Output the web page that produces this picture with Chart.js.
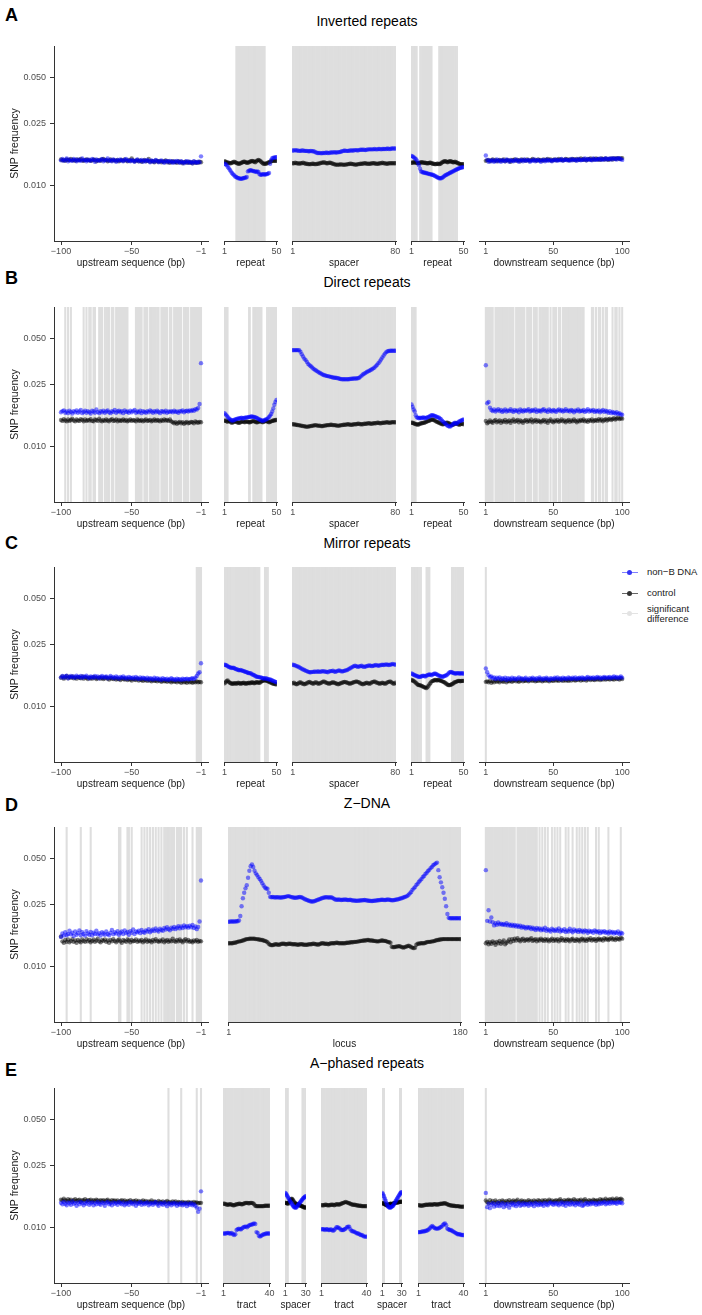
<!DOCTYPE html>
<html lang="en">
<head>
<meta charset="UTF-8">
<title>SNP frequency in and around non-B DNA motifs</title>
<script src="https://cdn.jsdelivr.net/npm/chart.js@4.4.0/dist/chart.umd.min.js"></script>
<style>
  body { margin: 0; width: 702px; height: 1315px; position: relative; background: #fff; overflow: hidden;
         font-family: 'Liberation Sans', Arial, sans-serif; }
  canvas { position: absolute; }
  .letter { position: absolute; left: 5px; font-size: 18px; font-weight: bold; line-height: 1; transform: translateY(-50%); }
  .title { position: absolute; left: 367px; font-size: 14px; line-height: 1; white-space: nowrap; transform: translate(-50%, -50%); }
  .ltext { position: absolute; left: 647px; font-size: 9.5px; line-height: 10px; color: #1a1a1a; transform: translateY(-50%); }
  .kline { position: absolute; left: 622px; width: 16px; height: 1px; }
  .kdot { position: absolute; left: 627px; width: 5px; height: 5px; border-radius: 50%; }
</style>
</head>
<body>
<div class="letter" style="top:14.5px">A</div>
<div class="letter" style="top:278px">B</div>
<div class="letter" style="top:543px">C</div>
<div class="letter" style="top:805px">D</div>
<div class="letter" style="top:1070px">E</div>
<div class="title" style="top:21px">Inverted repeats</div>
<div class="title" style="top:282px">Direct repeats</div>
<div class="title" style="top:543px">Mirror repeats</div>
<div class="title" style="top:803px">Z−DNA</div>
<div class="title" style="top:1063px">A−phased repeats</div>

<div class="kline" style="top:572px;background:rgba(0,0,255,0.5)"></div>
<div class="kdot" style="top:569.5px;background:#3535f5"></div>
<div class="ltext" style="top:572px">non−B DNA</div>
<div class="kline" style="top:593px;background:rgba(0,0,0,0.6)"></div>
<div class="kdot" style="top:590.5px;background:#333"></div>
<div class="ltext" style="top:593px">control</div>
<div class="kline" style="top:613px;background:#e3e3e3"></div>
<div class="kdot" style="top:610.5px;background:#e3e3e3"></div>
<div class="ltext" style="top:614px">significant<br>difference</div>

<script>
// SNP frequency values are given x 1000 (e.g. 14.5 = 0.0145)
const upTicks = [-100, -50, -1];
const downTicks = [1, 50, 100];
const rep50Ticks = [1, 50];
const sp80Ticks = [1, 80];
const locusTicks = [1, 180];
const tractTicks = [1, 40];
const sp30Ticks = [1, 30];
const yTicks = [0.010, 0.025, 0.050];

// ---- A: inverted repeats
const aUpNonB = [14.5,14.8,14.4,14.6,14.9,14.3,14.7,14.5,14.4,14.8,14.6,14.3,14.7,14.5,14.4,14.9,14.5,14.6,14.3,14.7,
  14.5,14.4,14.8,14.6,14.2,14.7,14.5,14.4,14.6,14.8,14.3,14.6,14.5,14.9,14.4,14.6,14.3,14.7,14.5,14.2,
  14.6,14.4,14.7,14.5,14.3,14.6,14.8,14.4,14.5,14.3,14.6,14.4,14.2,14.5,14.7,14.3,14.4,14.6,14.2,14.5,
  14.3,14.6,14.4,14.1,14.5,14.3,14.2,14.6,14.4,14.1,14.3,14.5,14.2,14.0,14.4,14.3,14.1,14.4,14.2,14.0,
  14.3,14.1,14.4,14.2,14.0,14.3,14.1,13.9,14.2,14.3,14.0,14.2,14.1,13.9,14.3,14.1,14.0,14.2,14.1,15.4];
const aUpCtrl = [14.7,14.5,14.6,14.4,14.7,14.6,14.5,14.8,14.5,14.6,14.4,14.7,14.5,14.6,14.8,14.5,14.4,14.6,14.7,14.5,
  14.6,14.4,14.5,14.7,14.6,14.3,14.5,14.6,14.4,14.7,14.8,14.5,14.6,14.3,14.5,14.7,14.4,14.6,14.5,14.4,
  14.6,14.3,14.5,14.6,14.4,14.7,14.5,14.3,14.6,14.4,14.9,14.5,14.3,14.4,14.6,14.3,14.5,14.2,14.4,14.6,
  14.3,14.4,14.8,14.2,14.4,14.3,14.1,14.5,14.3,14.2,14.4,14.1,14.3,14.2,14.5,14.1,14.3,14.0,14.2,14.3,
  14.1,14.2,14.0,14.3,14.1,14.2,13.9,14.1,14.2,14.0,14.2,14.0,14.1,13.9,14.2,14.0,14.1,14.0,14.2,14.1];
const aRep1NonB = [13.8,13.7,13.5,13.2,12.9,12.6,12.3,12.0,11.8,11.6,11.4,11.3,11.2,11.1,11.1,11.0,11.0,11.1,11.1,11.2,
  11.2,11.3,12.3,12.4,12.5,12.5,12.4,12.4,12.3,12.3,12.2,12.3,12.2,11.8,11.7,11.7,11.8,11.8,11.7,11.8,
  11.8,11.9,12.0,13.8,14.6,15.0,15.1,15.1,15.2,15.2];
const aRep1Ctrl = [14.3,14.2,14.1,14.0,14.0,13.9,13.9,14.0,14.1,14.2,14.1,14.0,13.9,13.8,13.8,13.9,14.0,14.1,14.2,14.2,
  14.1,14.0,14.0,14.1,14.2,14.3,14.4,14.3,14.2,14.1,14.3,14.5,14.6,14.5,14.3,14.1,13.9,13.8,13.8,13.8,
  13.9,14.0,14.1,14.2,14.3,14.4,14.4,14.4,14.4,14.4];
const aSpNonB = [16.8,16.8,16.9,16.8,16.8,16.7,16.7,16.8,16.8,16.7,16.7,16.7,16.6,16.6,16.7,16.6,16.6,16.5,16.3,16.2,
  16.2,16.2,16.1,16.2,16.2,16.2,16.3,16.2,16.2,16.3,16.3,16.3,16.4,16.3,16.3,16.4,16.4,16.5,16.6,16.7,
  16.8,16.7,16.7,16.7,16.8,16.8,16.8,16.8,16.9,16.9,16.8,16.9,17.0,17.0,17.0,17.0,16.9,17.0,17.1,17.1,
  17.1,17.1,17.1,17.2,17.1,17.1,17.2,17.2,17.1,17.2,17.2,17.2,17.2,17.3,17.2,17.2,17.3,17.3,17.3,17.3];
const aSpCtrl = [13.9,13.9,14.0,13.9,13.9,13.8,13.9,13.9,14.0,13.9,13.8,13.8,13.7,13.7,13.7,13.8,13.8,13.7,13.7,13.8,
  13.8,13.9,14.0,14.0,14.1,14.0,13.9,13.9,14.0,14.0,13.9,13.8,13.7,13.6,13.6,13.6,13.6,13.7,13.6,13.6,
  13.6,13.6,13.7,13.7,13.8,13.8,13.7,13.7,13.6,13.6,13.7,13.7,13.8,13.8,13.8,13.9,13.9,13.8,13.8,13.8,
  13.8,13.9,13.9,13.9,13.8,13.8,13.8,13.9,13.9,14.0,13.9,13.9,13.8,13.8,13.9,13.9,13.9,13.9,13.9,13.9];
const aRep2NonB = [15.5,15.4,15.2,15.0,14.8,14.5,14.0,13.5,12.8,12.3,12.2,12.1,12.1,12.0,12.0,11.9,11.9,11.8,11.8,11.7,
  11.7,11.6,11.5,11.4,11.3,11.2,11.1,11.1,11.1,11.2,11.3,11.5,11.6,11.7,11.8,11.9,12.0,12.1,12.2,12.3,
  12.4,12.5,12.6,12.7,12.8,12.9,13.0,13.0,13.1,13.1];
const aRep2Ctrl = [14.0,14.0,14.1,14.1,14.0,14.0,13.9,13.9,14.0,14.1,14.1,14.0,14.0,14.0,13.9,13.9,13.9,14.0,14.0,13.9,
  13.8,13.8,13.7,13.7,13.8,13.8,13.7,13.8,13.9,14.1,14.2,14.3,14.3,14.2,14.1,14.2,14.3,14.3,14.2,14.1,
  14.1,14.2,14.1,14.0,13.9,13.8,13.7,13.7,13.7,13.7];
const aDownNonB = [15.6,14.6,14.2,14.5,14.3,14.6,14.2,14.4,14.7,14.3,14.5,14.2,14.6,14.4,14.3,14.7,14.5,14.2,14.6,14.4,
  14.3,14.5,14.7,14.4,14.2,14.6,14.5,14.3,14.7,14.4,14.5,14.6,14.2,14.5,14.4,14.7,14.3,14.5,14.6,14.4,
  14.2,14.6,14.5,14.3,14.7,14.4,14.6,14.5,14.3,14.6,14.5,14.7,14.4,14.6,14.5,14.8,14.4,14.6,14.7,14.5,
  14.6,14.4,14.8,14.5,14.7,14.6,14.4,14.8,14.6,14.5,14.7,14.6,14.9,14.5,14.7,14.8,14.6,14.5,14.9,14.7,
  14.6,14.8,14.7,14.9,14.6,14.8,14.7,15.0,14.7,14.8,14.9,14.7,15.0,14.8,14.9,14.7,15.0,14.9,14.8,14.6];
const aDownCtrl = [14.4,14.5,14.6,14.3,14.5,14.7,14.4,14.6,14.3,14.5,14.6,14.4,14.5,14.7,14.3,14.5,14.6,14.4,14.2,14.6,
  14.5,14.7,14.4,14.6,14.5,14.3,14.7,14.5,14.6,14.4,14.7,14.5,14.4,14.6,14.8,14.5,14.6,14.4,14.7,14.5,
  14.6,14.4,14.7,14.5,14.6,14.8,14.5,14.7,14.4,14.6,14.7,14.5,14.6,14.8,14.6,14.7,14.5,14.6,14.8,14.7,
  14.5,14.7,14.6,14.8,14.7,14.5,14.8,14.6,14.7,14.9,14.6,14.8,14.7,14.5,14.8,14.7,14.9,14.6,14.8,14.7,
  14.9,14.7,14.8,14.6,14.9,14.8,14.7,14.9,14.8,14.6,14.8,14.9,14.7,15.0,14.8,14.9,15.0,14.8,14.9,15.0];
const aUpSig = [];
const aRep1Sig = [[12, 39]];
const aSpSig = [[1, 80]];
const aRep2Sig = [[1, 6], [9, 20], [27, 44]];
const aDownSig = [];

// ---- B: direct repeats
const bUpNonB = [16.6,16.9,17.1,16.5,16.8,16.4,17.0,16.7,16.3,16.9,16.6,17.1,16.5,16.8,17.2,16.4,16.7,17.0,16.5,16.9,
  16.6,16.3,17.0,16.8,16.5,17.3,16.7,16.4,16.9,16.6,17.0,16.5,16.8,17.1,16.6,16.4,16.9,16.7,17.2,16.5,
  16.8,17.0,16.6,16.9,16.4,17.1,16.7,16.8,16.5,17.0,16.6,16.9,17.2,16.5,16.8,16.6,17.0,16.4,16.9,16.7,
  16.5,16.9,16.6,17.1,16.8,16.5,16.9,16.6,17.0,16.7,16.4,16.9,16.8,16.6,17.0,16.5,16.8,16.7,16.9,16.6,
  17.0,16.7,16.8,16.5,16.9,16.8,17.1,16.6,16.9,17.0,16.8,17.1,16.9,17.2,17.0,17.4,17.3,17.7,18.8,34.6];
const bUpCtrl = [14.8,14.6,15.0,14.7,14.5,14.9,14.6,14.8,15.1,14.7,14.5,14.9,14.7,14.6,15.0,14.8,14.5,14.9,14.6,14.8,
  14.7,15.0,14.6,14.5,14.9,14.8,14.6,15.1,14.7,14.5,14.8,14.6,14.9,14.7,14.5,14.8,15.0,14.6,14.7,14.9,
  14.5,14.8,14.6,14.7,14.9,14.6,14.8,14.5,14.7,14.9,14.6,14.8,14.7,14.5,14.9,14.7,14.6,14.8,14.5,14.7,
  14.9,14.6,14.7,14.8,14.5,14.7,14.9,14.6,14.8,14.7,14.5,14.8,14.6,14.9,14.7,14.8,14.6,14.9,14.5,14.3,
  14.1,14.3,14.0,14.2,14.4,14.1,14.3,14.0,14.2,14.4,14.1,14.2,14.4,14.3,14.1,14.5,14.3,14.2,14.4,14.3];
const bRep1NonB = [16.4,16.1,15.8,15.5,15.2,15.0,14.8,14.7,14.7,14.8,14.9,15.0,15.1,15.1,15.2,15.2,15.3,15.2,15.2,15.3,
  15.3,15.4,15.4,15.5,15.5,15.6,15.6,15.5,15.5,15.4,15.3,15.2,15.0,14.9,14.8,14.7,14.6,14.7,14.8,14.9,
  15.0,15.2,15.5,15.8,16.2,16.8,17.6,18.6,19.4,20.0];
const bRep1Ctrl = [14.6,14.7,14.5,14.4,14.6,14.5,14.3,14.2,14.3,14.4,14.5,14.4,14.3,14.2,14.2,14.3,14.4,14.5,14.4,14.3,
  14.4,14.5,14.4,14.3,14.3,14.4,14.5,14.6,14.5,14.4,14.3,14.3,14.4,14.5,14.5,14.4,14.3,14.4,14.5,14.6,
  14.5,14.4,14.3,14.4,14.5,14.6,14.7,14.7,14.8,14.8];
const bSpNonB = [42.0,42.0,42.0,42.0,42.0,42.0,41.0,39.5,38.2,37.0,36.2,35.2,34.2,33.5,33.0,32.4,31.8,31.4,31.0,30.6,
  30.2,29.9,29.5,29.2,29.0,28.8,28.6,28.5,28.4,28.2,28.1,27.9,27.8,27.8,27.7,27.6,27.4,27.3,27.2,27.2,
  27.2,27.2,27.2,27.2,27.3,27.4,27.4,27.5,27.5,27.5,27.6,27.7,28.2,28.7,29.2,29.5,29.9,30.3,30.6,30.9,
  31.2,31.6,32.0,32.4,33.1,33.8,34.6,35.5,36.5,37.6,38.8,39.9,40.8,41.3,41.5,41.6,41.6,41.6,41.6,41.6];
const bSpCtrl = [13.9,13.9,13.8,13.8,13.7,13.7,13.6,13.6,13.5,13.5,13.4,13.4,13.4,13.5,13.5,13.6,13.6,13.7,13.7,13.6,
  13.6,13.6,13.5,13.5,13.6,13.6,13.7,13.7,13.7,13.8,13.8,13.7,13.7,13.7,13.6,13.6,13.6,13.7,13.7,13.8,
  13.8,13.8,13.9,13.9,13.8,13.8,13.8,13.9,13.9,13.9,14.0,14.0,13.9,13.9,13.9,14.0,14.0,14.0,14.1,14.1,
  14.0,14.0,14.1,14.1,14.1,14.2,14.2,14.1,14.1,14.2,14.2,14.2,14.3,14.3,14.2,14.2,14.3,14.3,14.3,14.3];
const bRep2NonB = [18.7,18.0,17.3,16.8,15.9,15.4,15.3,15.2,15.3,15.2,15.3,15.4,15.3,15.2,15.3,15.4,15.5,15.6,15.8,15.9,
  15.9,15.8,15.7,15.6,15.5,15.4,15.3,15.1,14.9,14.6,14.4,14.2,14.0,13.8,13.6,13.5,13.4,13.5,13.7,13.9,
  14.1,14.2,14.0,14.1,14.3,14.5,14.6,14.7,14.8,14.9];
const bRep2Ctrl = [14.2,14.2,14.1,14.0,13.9,13.9,13.8,13.9,14.0,14.1,14.1,14.2,14.2,14.3,14.4,14.5,14.6,14.7,14.8,14.9,
  14.9,14.8,14.7,14.5,14.4,14.3,14.2,14.1,14.0,13.9,13.9,14.0,14.1,14.2,14.2,14.1,14.0,13.9,13.8,13.8,
  13.9,14.0,14.1,14.0,13.9,13.8,13.9,14.0,14.0,13.9];
const bDownNonB = [33.5,19.0,19.4,17.8,17.2,16.9,17.3,16.8,17.1,17.4,16.9,17.2,16.7,17.0,17.3,16.8,17.1,16.9,17.4,17.0,
  16.7,17.2,16.9,17.1,16.6,17.3,17.0,16.8,17.2,16.9,17.1,17.4,16.8,17.0,17.2,16.9,17.3,16.7,17.1,17.0,
  16.8,17.2,17.4,16.9,17.1,16.7,17.3,17.0,16.8,17.2,17.0,16.7,17.1,17.3,16.9,17.2,16.8,17.0,17.4,16.9,
  17.1,16.8,17.2,17.0,16.6,17.1,16.9,17.3,16.8,17.0,16.9,17.2,16.7,17.0,17.4,16.8,17.1,16.9,17.2,16.7,
  17.0,16.8,17.1,16.6,16.9,17.2,16.7,17.0,16.8,16.5,16.9,16.4,16.7,16.5,16.3,16.6,16.2,16.4,16.1,16.0];
const bDownCtrl = [14.6,14.1,14.3,14.7,14.4,14.2,14.6,14.8,14.3,14.5,14.7,14.2,14.6,14.4,14.8,14.3,14.5,14.7,14.2,14.6,
  14.9,14.4,14.6,14.8,14.3,14.7,14.5,14.2,14.6,14.8,14.4,14.7,14.5,14.9,14.3,14.6,14.8,14.4,14.7,14.5,
  14.3,14.6,14.8,14.4,14.7,14.2,14.6,14.9,14.5,14.3,14.7,14.5,14.8,14.4,14.6,14.9,14.5,14.7,14.3,14.6,
  14.8,14.4,14.7,14.5,14.9,14.6,14.3,14.7,14.5,14.8,14.6,14.9,14.5,14.7,14.4,14.8,14.6,14.9,14.5,14.7,
  14.8,14.6,15.0,14.7,14.9,14.5,14.8,15.0,14.7,14.9,15.1,14.8,15.0,15.2,14.9,15.1,15.3,15.0,15.2,15.1];
const bUpSig = [[-97, -97], [-95, -95], [-93, -93], [-84, -84], [-82, -82], [-80, -79], [-77, -76], [-73, -71],
  [-69, -66], [-64, -63], [-61, -53], [-47, -43], [-41, -39], [-37, -31], [-29, -25], [-23, -22], [-20, -15],
  [-13, -10], [-8, -5], [-4, -1]];
const bRep1Sig = [[1, 4], [24, 25], [28, 36], [41, 50]];
const bSpSig = [[1, 80]];
const bRep2Sig = [[1, 5]];
const bDownSig = [[1, 6], [8, 21], [23, 29], [31, 34], [36, 38], [40, 46], [48, 48], [50, 52], [54, 55], [57, 72],
  [78, 79], [81, 81], [83, 84], [86, 86], [88, 89], [93, 93], [95, 96], [98, 98], [100, 100]];

// ---- C: mirror repeats
const cUpNonB = [15.4,15.7,15.3,15.6,15.8,15.2,15.5,15.7,15.4,15.6,15.3,15.8,15.5,15.4,15.7,15.3,15.6,15.5,15.8,15.4,
  15.2,15.6,15.5,15.3,15.7,15.4,15.6,15.2,15.5,15.7,15.3,15.5,15.6,15.2,15.4,15.7,15.3,15.5,15.2,15.6,
  15.4,15.1,15.5,15.3,15.6,15.2,15.4,15.1,15.5,15.3,15.2,15.4,15.1,15.5,15.2,15.0,15.4,15.1,15.3,15.2,
  15.0,15.3,14.9,15.2,15.1,14.9,15.3,15.0,15.2,14.9,15.1,14.8,15.2,15.0,14.9,15.1,14.8,15.0,15.2,14.9,
  15.0,14.8,15.1,14.9,15.0,14.8,15.1,14.9,15.0,15.1,14.9,15.0,15.1,15.2,15.0,15.3,15.7,16.3,16.6,19.0];
const cUpCtrl = [15.3,15.6,15.1,15.4,15.7,15.2,15.5,15.3,15.6,15.2,15.4,15.1,15.5,15.3,15.2,15.6,15.1,15.4,15.3,15.0,
  15.4,15.2,15.1,15.5,15.3,15.0,15.2,15.4,15.1,15.3,15.0,15.2,15.4,15.1,14.9,15.3,15.1,15.0,15.2,14.9,
  15.1,15.0,14.8,15.2,15.0,14.9,15.1,14.8,15.0,14.9,14.7,15.0,14.9,14.8,15.1,14.7,14.9,14.8,14.6,14.9,
  14.8,14.6,14.9,14.7,14.5,14.8,14.6,14.7,14.5,14.8,14.6,14.4,14.7,14.5,14.6,14.4,14.7,14.5,14.3,14.6,
  14.4,14.5,14.3,14.6,14.4,14.2,14.5,14.3,14.4,14.2,14.5,14.3,14.4,14.2,14.4,14.3,14.5,14.3,14.4,14.3];
const cRep1NonB = [18.6,18.5,18.4,18.2,18.0,17.9,17.8,17.7,17.8,17.7,17.5,17.4,17.3,17.2,17.1,17.2,17.1,17.0,16.9,16.8,
  16.7,16.6,16.5,16.4,16.4,16.3,16.1,16.0,15.9,15.7,15.6,15.5,15.5,15.4,15.4,15.3,15.2,15.2,15.1,15.2,
  15.1,15.0,14.9,14.9,14.8,14.7,14.6,14.5,14.4,14.3];
const cRep1Ctrl = [14.1,14.3,14.6,14.7,14.4,14.2,14.1,14.0,14.0,14.1,14.1,14.0,14.1,14.2,14.1,14.0,14.1,14.1,14.2,14.1,
  14.0,14.1,14.1,14.2,14.1,14.2,14.3,14.2,14.1,14.2,14.3,14.3,14.2,14.2,14.3,14.5,14.6,14.7,14.8,14.7,
  14.6,14.5,14.4,14.3,14.2,14.1,14.0,14.0,13.9,13.9];
const cSpNonB = [18.6,18.5,18.4,18.2,18.1,17.9,17.7,17.5,17.3,17.2,17.0,16.9,16.7,16.6,16.6,16.7,16.7,16.8,16.7,16.8,
  16.8,16.7,16.8,16.9,16.8,16.8,16.7,16.6,16.8,16.9,16.9,17.0,16.8,16.7,16.9,17.0,17.1,16.9,16.8,16.9,
  17.0,17.1,17.2,17.4,17.6,17.8,18.0,18.2,18.3,18.2,18.0,18.1,18.2,18.3,18.1,18.0,18.1,18.2,18.3,18.4,
  18.3,18.2,18.3,18.4,18.5,18.4,18.3,18.4,18.5,18.6,18.5,18.6,18.7,18.6,18.5,18.6,18.7,18.8,18.7,18.6];
const cSpCtrl = [14.1,14.2,14.0,13.9,14.0,14.2,14.3,14.1,14.0,13.9,14.0,14.1,14.3,14.4,14.2,14.1,14.0,14.2,14.3,14.1,
  14.0,14.1,14.2,14.4,14.5,14.3,14.2,14.1,14.0,14.1,14.2,14.3,14.2,14.1,14.0,13.9,14.0,14.1,14.2,14.3,
  14.4,14.3,14.2,14.1,14.0,14.1,14.2,14.3,14.4,14.5,14.4,14.3,14.1,14.0,13.9,14.0,14.1,14.2,14.1,14.0,
  14.1,14.3,14.4,14.5,14.3,14.2,14.1,14.0,14.1,14.2,14.1,14.0,14.1,14.3,14.4,14.5,14.3,14.1,14.0,14.2];
const cRep2NonB = [16.3,16.2,16.0,15.9,15.8,15.7,15.6,15.5,15.5,15.6,15.7,15.8,15.7,15.6,15.8,15.9,16.0,16.1,16.0,15.9,
  16.1,16.2,16.3,16.2,16.1,15.9,15.8,15.7,15.6,15.5,15.6,15.7,15.8,15.9,16.1,16.4,16.6,16.7,16.6,16.5,
  16.4,16.3,16.3,16.4,16.4,16.3,16.3,16.4,16.3,16.3];
const cRep2Ctrl = [14.8,14.7,14.6,14.4,14.2,14.0,13.8,13.7,13.7,13.6,13.5,13.4,13.3,13.2,13.1,13.3,13.6,13.9,14.2,14.5,
  14.6,14.7,14.8,14.8,14.7,14.8,14.8,14.7,14.6,14.5,14.4,14.3,14.1,14.0,13.8,13.7,13.7,13.8,13.9,14.0,
  14.2,14.3,14.4,14.5,14.6,14.6,14.5,14.6,14.6,14.6];
const cDownNonB = [17.6,16.6,15.9,15.5,15.6,15.2,15.4,15.0,15.3,15.1,15.4,14.9,15.2,15.0,15.3,14.8,15.2,15.1,14.9,15.3,
  15.0,15.2,14.9,15.1,15.4,15.0,15.2,14.9,15.1,15.3,15.0,14.8,15.2,15.0,15.3,15.1,14.9,15.2,15.0,15.4,
  15.1,14.9,15.2,15.0,15.3,15.1,14.8,15.2,15.1,15.0,15.3,15.1,15.4,15.0,15.2,14.9,15.3,15.1,15.2,15.0,
  15.4,15.2,15.0,15.3,15.1,15.4,15.0,15.2,15.3,15.1,15.4,15.2,15.0,15.3,15.5,15.1,15.3,15.2,15.4,15.1,
  15.3,15.5,15.2,15.4,15.1,15.3,15.5,15.2,15.4,15.3,15.5,15.2,15.4,15.6,15.3,15.5,15.2,15.4,15.6,15.3];
const cDownCtrl = [14.4,14.5,14.3,14.6,14.2,14.5,14.3,14.7,14.4,14.6,14.3,14.7,14.5,14.4,14.8,14.3,14.6,14.5,14.7,14.4,
  14.6,14.8,14.5,14.7,14.4,14.6,14.9,14.5,14.7,14.6,14.8,14.5,14.7,14.9,14.6,14.8,14.5,14.7,14.6,14.9,
  14.7,14.5,14.8,14.6,14.9,14.7,14.5,14.8,14.7,14.6,14.9,14.7,14.8,14.6,14.9,14.8,14.6,14.9,14.7,14.8,
  14.6,14.9,14.7,15.0,14.8,14.7,14.9,14.8,15.0,14.7,14.9,14.8,15.0,14.7,14.9,15.1,14.8,15.0,14.9,14.8,
  15.0,14.9,15.1,14.8,15.0,14.9,15.2,14.9,15.0,15.1,14.9,15.1,15.0,14.9,15.2,15.0,15.1,14.9,15.2,15.0];
const cUpSig = [[-4, -1]];
const cRep1Sig = [[1, 34], [39, 42]];
const cSpSig = [[1, 80]];
const cRep2Sig = [[1, 10], [15, 18], [39, 50]];
const cDownSig = [[1, 1]];

// ---- D: Z-DNA
const dUpNonB = [15.5,16.3,15.8,16.6,15.9,16.2,17.0,16.1,16.5,15.7,16.8,16.0,16.4,17.1,15.9,16.6,16.2,15.8,16.9,16.3,
  16.0,16.7,15.9,16.5,16.2,17.0,16.1,16.4,15.8,16.6,16.3,16.0,16.8,16.2,15.9,16.5,17.2,16.1,16.6,16.3,
  16.9,16.0,16.5,16.8,16.2,17.1,16.4,16.7,16.0,16.9,16.5,17.3,16.2,16.8,16.6,17.0,16.4,17.2,16.7,16.5,
  17.1,16.8,17.4,16.6,17.0,17.3,16.9,17.6,17.1,16.8,17.5,17.2,17.0,17.7,17.3,17.9,17.4,17.1,17.8,17.5,
  18.0,17.4,17.8,18.2,17.6,18.1,17.7,18.4,17.9,18.2,17.8,18.3,17.9,18.5,17.7,18.1,17.4,18.0,19.5,36.0];
const dUpCtrl = [15.6,14.5,14.2,14.8,14.4,14.9,14.3,14.6,15.0,14.4,14.7,14.2,14.8,14.5,14.3,14.9,14.6,14.4,15.0,14.5,
  14.8,14.3,14.6,14.9,14.4,14.7,15.1,14.5,14.3,14.8,14.6,14.9,14.4,14.7,14.2,14.8,14.5,15.0,14.6,14.3,
  14.7,14.9,14.5,14.2,14.8,14.6,14.4,14.9,14.7,14.3,14.8,14.5,14.6,14.9,14.4,14.7,14.5,14.8,14.3,14.6,
  14.9,14.4,14.7,14.6,14.3,14.8,14.5,15.0,14.6,14.4,14.7,14.5,14.9,14.3,14.6,14.8,14.4,14.7,14.5,15.1,
  14.6,14.4,14.8,14.5,14.9,14.6,14.3,14.7,15.0,14.5,14.8,14.4,14.6,14.3,14.7,14.5,14.8,14.4,14.6,14.5];
const dLocusNonB = [19.4,19.5,19.5,19.5,19.5,19.5,19.6,19.6,19.8,21.2,24.5,27.6,30.0,32.0,33.5,37.5,41.6,44.5,45.8,44.0,
  41.6,40.0,39.0,37.8,36.8,35.8,34.6,33.4,32.4,31.9,31.8,30.0,28.2,28.0,28.1,28.0,27.9,28.0,28.0,27.9,
  27.9,27.9,28.0,28.1,28.2,28.4,28.5,28.4,28.2,28.0,27.9,27.8,27.8,27.9,28.0,28.1,28.0,27.8,27.5,27.2,
  27.0,26.8,26.6,26.4,26.3,26.3,26.4,26.6,26.8,27.0,27.2,27.4,27.6,27.8,27.9,28.0,28.0,27.9,27.9,28.0,
  27.8,27.5,27.2,27.0,27.0,27.1,27.0,26.9,27.0,27.0,27.1,27.0,26.9,26.9,27.0,26.8,26.7,26.7,26.6,26.6,
  26.6,26.7,26.7,26.8,26.8,26.9,26.8,26.7,26.6,26.6,26.5,26.5,26.6,26.6,26.7,26.8,26.8,26.9,27.0,27.0,
  26.9,26.9,27.0,27.1,27.0,26.9,26.8,26.8,26.9,27.0,27.1,27.2,27.4,27.5,27.7,27.9,28.1,28.3,28.6,29.1,
  29.7,30.3,31.3,32.0,32.6,33.7,34.3,35.3,36.0,36.8,37.9,38.5,39.7,40.4,41.5,42.2,43.3,44.0,45.2,45.8,
  46.5,47.0,42.0,37.8,35.0,32.5,30.0,27.4,24.5,21.8,20.6,20.5,20.5,20.5,20.5,20.5,20.5,20.5,20.5,20.5];
const dLocusCtrl = [14.1,14.1,14.1,14.1,14.2,14.2,14.3,14.4,14.5,14.5,14.6,14.7,14.8,14.9,15.0,15.0,15.1,15.1,15.1,15.1,
  15.1,15.0,15.0,14.9,14.9,14.8,14.8,14.7,14.6,14.5,14.3,14.0,13.8,13.7,13.7,13.8,13.9,13.9,13.8,13.8,
  13.9,14.0,14.0,14.0,13.9,13.9,14.0,14.0,14.0,13.9,13.9,13.9,13.9,13.8,13.8,13.9,13.9,13.9,13.8,13.8,
  13.8,13.8,13.9,13.9,13.9,14.0,14.0,13.9,13.9,13.8,13.9,14.0,14.1,14.1,14.0,14.0,14.0,13.9,14.0,14.1,
  14.1,14.1,14.1,14.2,14.2,14.1,14.1,14.1,14.1,14.1,14.1,14.2,14.2,14.2,14.3,14.3,14.3,14.4,14.4,14.4,
  14.5,14.5,14.6,14.6,14.7,14.7,14.7,14.8,14.8,14.7,14.7,14.7,14.6,14.6,14.5,14.5,14.5,14.6,14.7,14.7,
  14.6,14.6,14.5,14.4,14.3,14.2,13.4,13.3,13.3,13.4,13.4,13.5,13.5,13.4,13.3,13.2,13.3,13.4,13.5,13.6,
  13.5,13.3,13.2,13.1,13.2,13.8,14.0,14.0,14.1,14.1,14.1,14.1,14.2,14.3,14.4,14.4,14.4,14.5,14.5,14.6,
  14.7,14.8,14.8,14.9,14.9,15.0,15.0,15.0,15.0,15.0,15.0,15.0,15.0,15.0,15.0,15.0,15.0,15.0,15.0,15.0];
const dDownNonB = [42.0,19.7,23.1,19.5,20.7,19.3,18.4,19.0,18.6,19.2,18.7,18.9,18.6,18.8,18.5,19.0,18.4,18.7,18.3,18.6,
  18.2,18.5,18.1,18.4,18.0,18.3,17.8,18.1,17.9,17.6,18.0,17.7,17.9,17.4,17.8,17.5,17.2,17.7,17.3,17.6,
  17.1,17.5,17.2,17.8,17.0,17.4,17.1,16.8,17.5,17.2,16.9,17.3,17.0,17.6,16.8,17.2,16.9,17.4,16.7,17.1,
  16.8,17.5,17.0,16.6,17.3,16.9,17.1,16.7,17.2,16.8,17.0,16.6,17.1,16.9,16.5,17.0,16.7,16.9,16.5,17.1,
  16.8,16.6,16.9,16.4,16.8,16.6,16.9,16.5,16.7,16.3,16.8,16.5,16.7,16.3,16.6,16.4,16.8,16.2,16.5,16.3];
const dDownCtrl = [14.1,14.4,13.9,14.3,14.0,14.5,14.2,13.8,14.4,14.1,14.6,14.0,14.3,14.7,13.9,14.2,14.5,14.9,14.3,15.0,
  14.6,15.1,14.7,15.2,14.8,14.5,14.9,15.1,14.6,14.8,15.0,14.7,14.9,15.2,14.6,14.8,15.0,14.5,14.9,14.7,
  15.1,14.8,14.6,15.0,14.7,14.9,14.5,14.8,15.1,14.6,14.9,14.7,15.0,14.5,14.8,15.2,14.7,14.9,14.6,15.0,
  14.8,14.5,14.9,15.1,14.7,14.6,15.0,14.8,14.5,14.9,15.1,14.7,14.9,14.6,15.0,14.8,15.2,14.7,14.9,15.0,
  14.6,14.9,15.1,14.8,15.0,14.7,15.2,14.9,15.1,14.8,15.0,15.3,14.9,15.1,14.8,15.2,15.0,14.9,15.3,15.1];
const dUpSig = [[-96, -96], [-86, -86], [-79, -79], [-59, -58], [-53, -52], [-50, -50], [-43, -43], [-41, -41],
  [-39, -39], [-37, -37], [-35, -35], [-33, -33], [-31, -31], [-29, -29], [-27, -20], [-18, -15], [-13, -13],
  [-11, -11], [-7, -7], [-4, -1]];
const dLocusSig = [[1, 180]];
const dDownSig = [[1, 22], [24, 38], [40, 40], [42, 42], [44, 44], [46, 46], [49, 49], [51, 51], [53, 53], [55, 55],
  [59, 59], [61, 61], [64, 64], [67, 67], [69, 69], [71, 71], [73, 73], [75, 75], [81, 81], [83, 83], [90, 90], [99, 99]];

// ---- E: A-phased repeats
const eUpNonB = [14.4,14.1,14.6,14.2,13.9,14.5,14.3,14.0,14.7,14.2,14.4,13.8,14.5,14.1,14.6,14.3,13.9,14.4,14.2,14.7,
  14.0,14.3,14.5,13.9,14.4,14.1,14.6,14.2,14.0,14.5,14.3,13.8,14.4,14.6,14.1,14.3,13.9,14.5,14.2,14.4,
  14.0,14.6,14.3,14.1,14.5,13.9,14.2,14.4,14.0,14.6,14.3,14.1,14.5,13.8,14.3,14.2,14.6,14.0,14.4,14.1,
  14.3,14.5,13.9,14.2,14.4,14.0,14.3,14.6,14.1,13.8,14.4,14.2,14.0,14.5,14.1,13.7,14.3,14.2,13.9,14.4,
  14.1,14.3,13.8,14.2,14.0,14.4,13.9,14.1,14.3,13.7,14.2,14.0,14.3,13.9,14.1,13.8,13.4,12.6,13.2,17.1];
const eUpCtrl = [15.1,14.9,15.3,15.0,14.8,15.2,14.9,15.1,14.7,15.0,15.2,14.8,15.0,15.1,14.7,15.0,14.9,15.2,14.8,15.0,
  14.9,15.1,14.7,15.0,14.8,15.1,14.9,14.7,15.0,14.8,15.0,14.7,14.9,15.1,14.8,14.6,15.0,14.8,14.9,14.7,
  14.9,14.6,14.8,15.0,14.7,14.9,14.6,14.8,14.7,15.0,14.6,14.8,14.7,14.9,14.6,14.8,14.5,14.7,14.9,14.6,
  14.8,14.5,14.7,14.6,14.9,14.5,14.7,14.6,14.4,14.8,14.6,14.5,14.7,14.4,14.6,14.8,14.5,14.6,14.4,14.7,
  14.5,14.7,14.4,14.6,14.5,14.3,14.6,14.4,14.5,14.3,14.6,14.4,14.5,14.3,14.6,14.4,14.5,14.3,14.4,14.4];
const eTract1NonB = [9.1,9.1,9.1,9.2,9.2,9.1,9.1,9.2,9.0,8.9,9.0,9.6,9.7,9.8,9.7,9.7,9.9,10.0,10.1,10.1,
  10.0,10.2,10.3,10.4,10.4,10.5,10.6,10.5,9.3,9.2,8.8,8.7,8.8,8.9,9.0,9.0,9.1,9.1,9.1,9.1];
const eTract1Ctrl = [14.2,14.2,14.1,14.0,14.0,14.1,14.1,14.0,13.9,13.9,14.0,14.1,14.1,14.2,14.2,14.1,14.1,14.2,14.3,14.4,
  14.4,14.3,14.3,14.4,14.4,14.3,14.1,13.8,13.7,13.7,13.7,13.7,13.7,13.7,13.7,13.8,13.8,13.8,13.8,13.8];
const eSp1NonB = [16.7,16.5,16.2,15.9,15.6,15.3,15.0,14.7,14.5,14.2,14.0,13.8,13.6,13.5,13.4,13.4,13.5,13.7,13.9,14.1,
  14.3,14.5,14.7,14.9,15.1,15.3,15.5,15.6,15.8,15.9];
const eSp1Ctrl = [14.4,14.4,14.3,14.3,14.2,14.4,14.7,15.0,15.2,15.3,15.2,15.0,14.7,14.5,14.3,14.2,14.1,14.0,14.1,14.0,
  13.9,13.9,13.8,13.7,13.7,13.6,13.5,13.5,13.4,13.4];
const eTract2NonB = [9.7,9.7,9.7,9.6,9.7,9.7,9.6,9.6,9.7,9.6,9.5,9.6,9.8,10.0,10.0,9.9,9.8,9.6,9.6,9.6,
  9.7,9.8,10.0,10.1,10.1,9.7,9.5,9.4,9.4,9.3,9.2,9.1,9.1,9.0,8.9,8.9,8.8,8.7,8.7,8.7];
const eTract2Ctrl = [13.9,13.9,13.9,14.0,14.0,13.9,13.9,13.9,14.0,14.0,14.0,13.9,14.0,14.1,14.1,14.0,14.1,14.2,14.3,14.4,
  14.5,14.6,14.5,14.4,14.3,14.2,14.1,14.0,14.0,14.0,13.9,13.9,13.8,13.8,13.8,13.7,13.7,13.7,13.7,13.7];
const eSp2NonB = [16.7,16.4,16.0,15.6,15.2,14.8,14.4,14.1,13.8,13.6,13.5,13.4,13.4,13.5,13.6,13.7,13.8,14.0,14.2,14.5,
  14.8,15.0,15.3,15.5,15.8,16.1,16.3,16.6,16.8,16.9];
const eSp2Ctrl = [14.4,14.3,14.2,14.2,14.1,14.0,13.9,13.9,13.9,14.0,14.1,14.1,14.2,14.2,14.1,14.1,14.2,14.3,14.3,14.4,
  14.4,14.5,14.5,14.4,14.5,14.6,14.6,14.6,14.7,14.6];
const eTract3NonB = [9.3,9.3,9.3,9.4,9.4,9.4,9.5,9.5,9.6,9.7,9.9,10.1,10.2,10.0,9.9,9.8,9.8,9.8,9.9,10.0,
  10.1,10.3,10.5,10.6,10.3,9.8,9.7,9.6,9.6,9.5,9.4,9.3,9.2,9.1,9.0,9.0,9.0,8.9,8.9,8.9];
const eTract3Ctrl = [13.9,13.9,13.8,13.8,13.9,13.9,14.0,14.0,14.0,14.0,14.1,14.0,14.0,14.1,14.1,14.1,14.0,14.1,14.1,14.2,
  14.2,14.2,14.3,14.3,14.2,14.1,14.0,13.9,13.9,13.8,13.8,13.8,13.7,13.7,13.7,13.7,13.6,13.6,13.6,13.6];
const eDownNonB = [16.7,13.5,14.2,13.3,14.0,14.3,13.6,14.1,13.8,14.4,13.7,14.0,14.3,13.5,14.1,13.8,14.2,13.4,14.0,14.3,
  13.9,14.2,13.7,14.1,14.4,13.8,14.0,14.3,13.9,14.2,14.1,13.8,14.3,14.0,14.2,13.7,14.4,14.1,13.9,14.3,
  14.0,14.2,13.8,14.4,14.1,13.9,14.3,14.5,14.2,14.0,14.4,14.1,14.3,13.9,14.2,14.5,14.0,14.3,13.8,14.4,
  14.2,14.0,14.5,14.1,14.3,13.9,14.4,14.2,14.0,14.5,13.8,13.9,14.2,14.4,14.0,14.3,14.1,14.5,14.2,14.4,
  14.0,14.3,14.1,14.5,14.2,14.4,14.6,14.1,14.3,14.5,14.2,14.6,14.3,14.5,14.4,14.2,14.6,14.4,14.5,14.3];
const eDownCtrl = [14.9,14.6,14.3,15.0,14.5,14.8,14.4,14.9,14.6,14.3,14.8,14.5,14.9,14.7,14.4,14.8,14.6,15.0,14.5,14.7,
  14.9,14.6,14.8,15.1,14.5,14.7,14.9,14.6,14.8,14.5,14.7,15.0,14.6,14.8,14.5,14.9,14.7,14.6,15.0,14.8,
  14.5,14.9,14.7,15.0,14.6,14.8,15.1,14.7,14.9,14.6,14.8,15.0,14.7,14.9,15.2,14.8,14.6,15.0,14.7,14.9,
  15.1,14.8,15.0,14.7,15.2,14.9,14.6,15.0,14.8,15.1,14.7,14.9,15.2,14.8,14.6,15.0,14.8,14.7,15.1,14.9,
  14.8,15.0,14.7,15.2,14.9,15.1,14.8,15.3,15.0,14.9,15.2,15.0,15.3,14.9,15.1,15.4,15.0,15.2,15.3,15.1];
const eUpSig = [[-24, -24], [-15, -15], [-4, -4], [-1, -1]];
const eTractSig = [[1, 40]];
const eSp1Sig = [[1, 5], [25, 30]];
const eSp2Sig = [[1, 4], [27, 30]];
const eDownSig = [[1, 1]];

// ---- drawing
Chart.defaults.font.family = "'Liberation Sans', Arial, sans-serif";
Chart.defaults.color = '#4d4d4d';

const Y_MIN = 0.00435, Y_MAX = 0.08;
const PLOT_H = 199, AXIS_H = 30, M = 14;

function fmtTick(v) {
  return v < 0 ? '\u2212' + Math.abs(v) : String(v);
}

function positions(first, n) {
  const out = [];
  for (let i = 0; i < n; i++) out.push(first + i);
  return out;
}

// x-axis title for very narrow facets: Chart.js squeezes the title to the
// scale width, ggplot lets it run over, so draw it without a maxWidth
const wideTitle = {
  id: 'wideTitle',
  afterDraw(chart, args, opts) {
    if (!opts.text) return;
    const s = chart.scales.x, ctx = chart.ctx;
    ctx.save();
    ctx.font = '10px ' + Chart.defaults.font.family;
    ctx.fillStyle = '#1a1a1a';
    ctx.textAlign = 'center';
    ctx.textBaseline = 'middle';
    ctx.fillText(opts.text, (s.left + s.right) / 2, s.bottom - 7.5);
    ctx.restore();
  }
};

function panel(top, x0, x1, first, nonB, ctrl, sig, ticks, title, wide, withY) {
  const pos = positions(first, nonB.length);
  const last = pos[pos.length - 1];
  const pad = wide ? 0.05 * (last - first) : 0.5;
  const narrow = x1 - x0 < 40;

  const left = withY ? 0 : x0 - M;
  const cv = document.createElement('canvas');
  cv.width = x1 + M - left;
  cv.height = PLOT_H + AXIS_H;
  cv.style.left = left + 'px';
  cv.style.top = top + 'px';
  document.body.appendChild(cv);

  const sigSet = new Set();
  sig.forEach(([a, b]) => { for (let p = a; p <= b; p++) sigSet.add(p); });

  new Chart(cv, {
    type: 'scatter',
    plugins: [wideTitle],
    data: {
      datasets: [
        {
          type: 'bar',
          data: pos.map(p => ({ x: p, y: sigSet.has(p) ? [Y_MIN, Y_MAX] : null })),
          backgroundColor: '#dedede',
          categoryPercentage: 1,
          barPercentage: 1,
          grouped: false,
          order: 3
        },
        {
          label: 'control',
          data: pos.map((p, i) => ({ x: p, y: ctrl[i] / 1000 })),
          pointBackgroundColor: 'rgba(0,0,0,0.5)',
          pointBorderWidth: 0,
          pointRadius: 2.2,
          order: 2
        },
        {
          label: 'non-B DNA',
          data: pos.map((p, i) => ({ x: p, y: nonB[i] / 1000 })),
          pointBackgroundColor: 'rgba(0,0,255,0.5)',
          pointBorderWidth: 0,
          pointRadius: 2.2,
          order: 1
        }
      ]
    },
    options: {
      responsive: false,
      animation: false,
      events: [],
      layout: { padding: { left: withY ? 0 : M, right: M, top: 0, bottom: 0 } },
      plugins: {
        legend: { display: false },
        tooltip: { enabled: false },
        wideTitle: { text: narrow ? title : '' }
      },
      scales: {
        x: {
          type: 'linear',
          offset: false,
          min: first - pad,
          max: last + pad,
          afterBuildTicks: s => { s.ticks = ticks.map(v => ({ value: v })); },
          afterFit: s => { s.height = AXIS_H; s.paddingLeft = 0; s.paddingRight = 0; },
          ticks: { autoSkip: false, maxRotation: 0, padding: 1, color: '#4d4d4d', font: { size: 9 }, callback: fmtTick },
          grid: { offset: false, drawOnChartArea: false, tickLength: 4, color: '#333' },
          border: { color: '#333', width: 1 },
          title: { display: !narrow, text: title, color: '#1a1a1a', font: { size: 10 }, padding: { top: 0, bottom: 1.5 } }
        },
        y: {
          type: 'logarithmic',
          display: withY,
          min: Y_MIN,
          max: Y_MAX,
          afterBuildTicks: s => { s.ticks = yTicks.map(v => ({ value: v })); },
          afterFit: s => { if (withY) s.width = x0; s.paddingTop = 0; s.paddingBottom = 0; },
          ticks: { padding: 4, color: '#4d4d4d', font: { size: 9 }, callback: v => Number(v).toFixed(3) },
          grid: { drawOnChartArea: false, tickLength: 4, color: '#333' },
          border: { color: '#333', width: 1 },
          title: { display: true, text: 'SNP frequency', color: '#1a1a1a', font: { size: 10.5 }, padding: { top: 9, bottom: 0 } }
        }
      }
    }
  });
}

const UP = 'upstream sequence (bp)', DOWN = 'downstream sequence (bp)';

// A
panel(42, 54, 208, -100, aUpNonB, aUpCtrl, aUpSig, upTicks, UP, true, true);
panel(42, 224, 277, 1, aRep1NonB, aRep1Ctrl, aRep1Sig, rep50Ticks, 'repeat', false, false);
panel(42, 292, 396, 1, aSpNonB, aSpCtrl, aSpSig, sp80Ticks, 'spacer', false, false);
panel(42, 411, 464, 1, aRep2NonB, aRep2Ctrl, aRep2Sig, rep50Ticks, 'repeat', false, false);
panel(42, 479, 629, 1, aDownNonB, aDownCtrl, aDownSig, downTicks, DOWN, true, false);
// B
panel(303, 54, 208, -100, bUpNonB, bUpCtrl, bUpSig, upTicks, UP, true, true);
panel(303, 224, 277, 1, bRep1NonB, bRep1Ctrl, bRep1Sig, rep50Ticks, 'repeat', false, false);
panel(303, 292, 396, 1, bSpNonB, bSpCtrl, bSpSig, sp80Ticks, 'spacer', false, false);
panel(303, 411, 464, 1, bRep2NonB, bRep2Ctrl, bRep2Sig, rep50Ticks, 'repeat', false, false);
panel(303, 479, 629, 1, bDownNonB, bDownCtrl, bDownSig, downTicks, DOWN, true, false);
// C
panel(563, 54, 208, -100, cUpNonB, cUpCtrl, cUpSig, upTicks, UP, true, true);
panel(563, 224, 277, 1, cRep1NonB, cRep1Ctrl, cRep1Sig, rep50Ticks, 'repeat', false, false);
panel(563, 292, 396, 1, cSpNonB, cSpCtrl, cSpSig, sp80Ticks, 'spacer', false, false);
panel(563, 411, 464, 1, cRep2NonB, cRep2Ctrl, cRep2Sig, rep50Ticks, 'repeat', false, false);
panel(563, 479, 629, 1, cDownNonB, cDownCtrl, cDownSig, downTicks, DOWN, true, false);
// D
panel(823, 54, 208, -100, dUpNonB, dUpCtrl, dUpSig, upTicks, UP, true, true);
panel(823, 228, 461, 1, dLocusNonB, dLocusCtrl, dLocusSig, locusTicks, 'locus', false, false);
panel(823, 479, 629, 1, dDownNonB, dDownCtrl, dDownSig, downTicks, DOWN, true, false);
// E
panel(1084, 54, 208, -100, eUpNonB, eUpCtrl, eUpSig, upTicks, UP, true, true);
panel(1084, 223, 270, 1, eTract1NonB, eTract1Ctrl, eTractSig, tractTicks, 'tract', false, false);
panel(1084, 285, 306, 1, eSp1NonB, eSp1Ctrl, eSp1Sig, sp30Ticks, 'spacer', false, false);
panel(1084, 321, 367, 1, eTract2NonB, eTract2Ctrl, eTractSig, tractTicks, 'tract', false, false);
panel(1084, 382, 402, 1, eSp2NonB, eSp2Ctrl, eSp2Sig, sp30Ticks, 'spacer', false, false);
panel(1084, 418, 464, 1, eTract3NonB, eTract3Ctrl, eTractSig, tractTicks, 'tract', false, false);
panel(1084, 479, 629, 1, eDownNonB, eDownCtrl, eDownSig, downTicks, DOWN, true, false);
</script>
</body>
</html>
